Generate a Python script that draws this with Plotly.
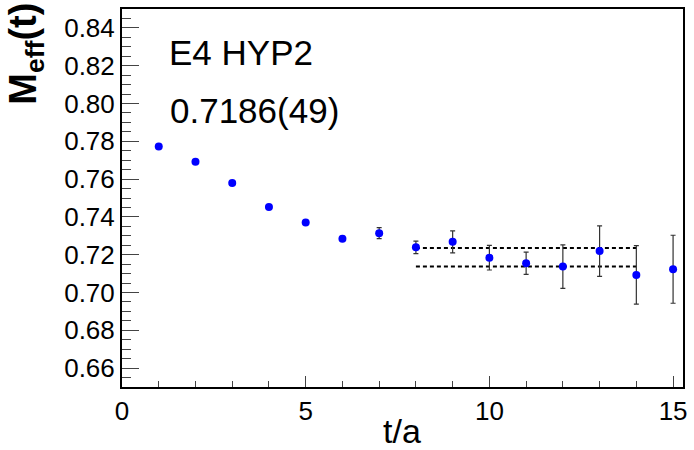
import plotly.graph_objects as go

# Data
t_vals = [1, 2, 3, 4, 5, 6, 7, 8, 9, 10, 11, 12, 13, 14, 15]
meff = [0.7772, 0.7692, 0.7579, 0.7453, 0.7371, 0.7284, 0.7314, 0.7239,
        0.7268, 0.7184, 0.7155, 0.7137, 0.7219, 0.7093, 0.7123]
meff_err = [0.0003, 0.0005, 0.0007, 0.0009, 0.0011, 0.0013, 0.0029, 0.0033,
            0.0058, 0.0065, 0.0059, 0.0115, 0.0134, 0.0155, 0.0180]
fit_range = [8, 14]
fit_value = 0.7186
fit_error = 0.0049
label_name = "E4 HYP2"
label_fit = "0.7186(49)"

FONT = "Liberation Sans, Arial, sans-serif"

fig = go.Figure()

# fit band lines (dashed)
for yv in (fit_value + fit_error, fit_value - fit_error):
    fig.add_trace(go.Scatter(
        x=fit_range, y=[yv, yv], mode="lines",
        line=dict(color="black", width=2, dash="4px,3px"),
        hoverinfo="skip", showlegend=False))

fig.add_trace(go.Scatter(
    x=t_vals, y=meff, mode="markers",
    marker=dict(color="#0000ff", size=8, line=dict(width=0)),
    error_y=dict(type="data", array=meff_err, color="#333333", thickness=1.2, width=2.5),
    showlegend=False))

fig.update_layout(
    width=694, height=450,
    margin=dict(l=122, r=7, t=7, b=63),
    paper_bgcolor="white", plot_bgcolor="white",
    font=dict(family=FONT, color="black"),
    xaxis=dict(range=[0, 15.27], showgrid=False, zeroline=False,
               showline=True, linecolor="black", linewidth=2, mirror=True,
               ticks="inside", ticklen=11, tickwidth=1, tickcolor="#444",
               tick0=0, dtick=5, tickfont=dict(size=26, family=FONT),
               minor=dict(ticks="inside", ticklen=6, dtick=1, tickcolor="#444", tickwidth=1)),
    yaxis=dict(range=[0.65, 0.85], showgrid=False, zeroline=False,
               showline=True, linecolor="black", linewidth=2, mirror=True,
               ticks="inside", ticklen=17, tickwidth=1, tickcolor="#444",
               tick0=0.66, dtick=0.02, tickformat=".2f",
               tickfont=dict(size=26, family=FONT),
               minor=dict(ticks="inside", ticklen=9, dtick=0.005, tickcolor="#444", tickwidth=1)),
)

fig.add_annotation(text=label_name, xref="paper", yref="paper",
                   x=0.0796, y=0.885, xanchor="left", yanchor="middle",
                   showarrow=False, font=dict(size=35, family=FONT, color="black"))
fig.add_annotation(text=label_fit, xref="paper", yref="paper",
                   x=0.0819, y=0.732, xanchor="left", yanchor="middle",
                   showarrow=False, font=dict(size=35, family=FONT, color="black"))
fig.add_annotation(text="<b>M<sub>eff</sub>(t)</b>", xref="paper", yref="paper",
                   x=-(122 - 25) / 565.6, y=0.881, xanchor="center", yanchor="middle",
                   textangle=-90, showarrow=False,
                   font=dict(size=38, family=FONT, color="black"))
fig.add_annotation(text="t/a", xref="paper", yref="paper",
                   x=0.499, y=-0.117, xanchor="center", yanchor="middle",
                   showarrow=False, borderpad=0,
                   font=dict(size=34, family=FONT, color="black"))

fig.write_html("out.html",
               config={"displayModeBar": False},
               post_script="document.body.style.margin='0';document.body.style.padding='0';")
